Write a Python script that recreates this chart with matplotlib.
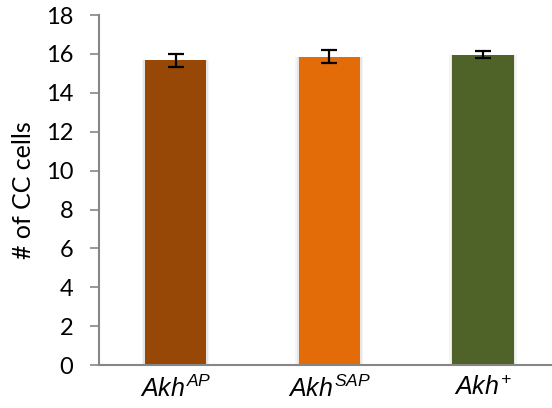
import matplotlib
matplotlib.use("Agg")
import matplotlib.pyplot as plt

genotypes = [r"$Akh^{AP}$", r"$Akh^{SAP}$", r"$Akh^{+}$"]
cc_cells = [15.67, 15.87, 15.97]
cc_sem = [0.34, 0.34, 0.18]
colors = ["#974706", "#E36C09", "#4F6228"]

plt.rcParams["mathtext.fontset"] = "custom"
plt.rcParams["mathtext.it"] = "Liberation Sans:italic"
plt.rcParams["mathtext.rm"] = "Liberation Sans:italic"
plt.rcParams["font.family"] = "Lato"

fig = plt.figure(figsize=(5.52, 4.08), dpi=100)
ax = fig.add_axes([0.179, 0.105, 0.821, 0.858])

x = range(len(genotypes))
# soft halo behind each bar
for w, a in [(0.44, 0.04), (0.42, 0.06)]:
    ax.bar(x, cc_cells, width=w, color="black", alpha=a, zorder=1)
ax.bar(x, cc_cells, width=0.40, color=colors, zorder=2)
ax.errorbar(x, cc_cells, yerr=cc_sem, fmt="none", ecolor="black",
            elinewidth=1.6, capsize=5.8, capthick=1.6, zorder=3)

ax.set_xlim(-0.5, 2.45)
ax.set_ylim(0, 18)
ax.set_yticks(range(0, 19, 2))
ax.set_xticks(list(x))
ax.set_xticklabels(genotypes, fontsize=18)
ax.tick_params(axis="x", length=0, pad=7)
ax.tick_params(axis="y", length=6.5, width=1.2, color="#868686",
               labelsize=17, pad=12)
ax.set_ylabel("# of CC cells", fontsize=18, labelpad=8)

for side in ["top", "right"]:
    ax.spines[side].set_visible(False)
for side in ["left", "bottom"]:
    ax.spines[side].set_color("#868686")
    ax.spines[side].set_linewidth(1.5)

fig.savefig("out.png", dpi=100)
